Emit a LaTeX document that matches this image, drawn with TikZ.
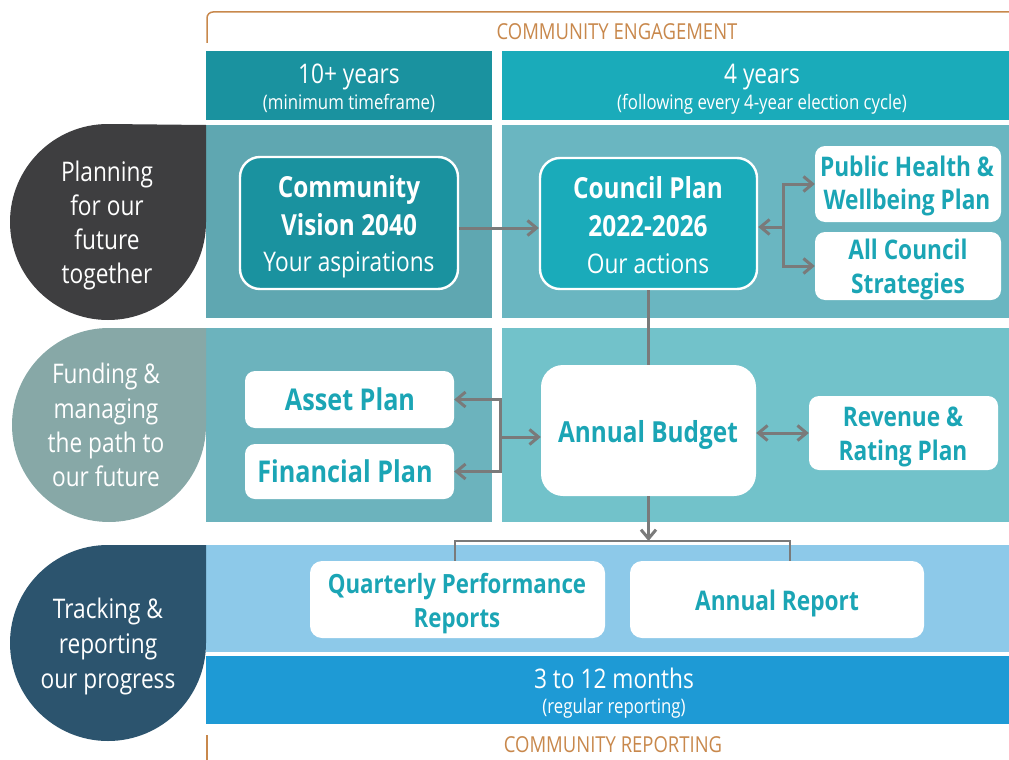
\documentclass[tikz,border=0pt]{standalone}
\usepackage{fontspec}
\setmainfont{Open Sans}[FakeStretch=0.84]
\usetikzlibrary{arrows.meta}
\definecolor{orng}{HTML}{C8884C}
\definecolor{hdrL}{HTML}{1A929F}
\definecolor{hdrR}{HTML}{1AABBA}
\definecolor{rAL}{HTML}{5FA7B1}
\definecolor{rAR}{HTML}{6AB6C1}
\definecolor{rBL}{HTML}{6CB3BD}
\definecolor{rBR}{HTML}{72C2CA}
\definecolor{rC}{HTML}{8DC9E9}
\definecolor{rD}{HTML}{1E9AD5}
\definecolor{leafA}{HTML}{3E3E40}
\definecolor{leafB}{HTML}{87A8A7}
\definecolor{leafC}{HTML}{2C546E}
\definecolor{tealtxt}{HTML}{1BA5B5}
\definecolor{arrgray}{HTML}{7A7A7A}
\newcommand\ftLeaf{\fontsize{27}{32}\selectfont}
\newcommand\ftSub{\fontsize{20}{24}\selectfont}
\newcommand\ftCap{\fontsize{22}{26}\selectfont}
\newcommand\ftBig{\fontsize{29}{34}\selectfont\bfseries}
\newcommand\ftAsset{\fontsize{30}{34}\selectfont\bfseries}
\newcommand\ftMid{\fontsize{27}{32}\selectfont\bfseries}
\newcommand\ftQ{\fontsize{26.5}{32}\selectfont\bfseries}
\begin{document}
\begin{tikzpicture}[x=1pt,y=-1pt,
  lbl/.style={inner sep=0pt, anchor=base},
  wlbl/.style={lbl, text=white},
  tlbl/.style={lbl, text=tealtxt},
  olbl/.style={lbl, text=orng, font=\ftCap},
  bigbox/.style={draw=white, line width=2.4pt, rounded corners=20pt, inner sep=0pt},
  wbox/.style={fill=white, rounded corners=10pt, inner sep=0pt},
  ln/.style={draw=arrgray, line width=3pt},
  arr/.style={ln, -{Straight Barb[length=9pt,width=15pt]}},
  darr/.style={ln, {Straight Barb[length=9pt,width=15pt]}-{Straight Barb[length=9pt,width=15pt]}}
]
\useasboundingbox (0,0) rectangle (1009,760);

% brackets
\draw[orng, line width=1.5pt, rounded corners=6pt] (207,43) -- (207,12) -- (1012,12);
\draw[orng, line width=1.5pt] (207,735) -- (207,762);
\node[olbl] (ceng) at (617,39.8) {COMMUNITY ENGAGEMENT};
\node[olbl] (crep) at (613,752.8) {COMMUNITY REPORTING};

% panels
\fill[hdrL] (206,51) rectangle (492,120);
\fill[hdrR] (502,51) rectangle (1009,120);
\fill[rAL] (206,125) rectangle (492,318);
\fill[rAR] (502,125) rectangle (1009,318);
\fill[rBL] (206,328) rectangle (492,522);
\fill[rBR] (502,328) rectangle (1009,522);
\fill[rC] (206,545) rectangle (1009,652);
\fill[rD] (206,656) rectangle (1009,724);

% header texts
\node[wlbl, font=\ftLeaf] (h1a) at (349,83.7) {10+ years};
\node[wlbl, font=\ftSub] (h1b) at (349,109) {(minimum timeframe)};
\node[wlbl, font=\ftLeaf] (h2a) at (762,83.7) {4 years};
\node[wlbl, font=\ftSub] (h2b) at (762,109) {(following every 4-year election cycle)};
\node[wlbl, font=\ftLeaf] (m1) at (614,688.7) {3 to 12 months};
\node[wlbl, font=\ftSub] (m2) at (614,713) {(regular reporting)};

% leaves
\fill[leafA] (206,125) -- (206,222) arc[start angle=0,end angle=270,radius=98] -- cycle;
\fill[leafB] (206,328) -- (206,425) arc[start angle=0,end angle=270,radius=97] -- cycle;
\fill[leafC] (206,545) -- (206,643) arc[start angle=0,end angle=270,radius=98] -- cycle;
\node[wlbl, font=\ftLeaf] (la1) at (107,181.7) {Planning};
\node[wlbl, font=\ftLeaf] (la2) at (107,215.7) {for our};
\node[wlbl, font=\ftLeaf] (la3) at (107,249.7) {future};
\node[wlbl, font=\ftLeaf] (la4) at (107,283.7) {together};
\node[wlbl, font=\ftLeaf] (lb1) at (106,383.7) {Funding \&};
\node[wlbl, font=\ftLeaf] (lb2) at (106,418.7) {managing};
\node[wlbl, font=\ftLeaf] (lb3) at (106,452.7) {the path to};
\node[wlbl, font=\ftLeaf] (lb4) at (106,486.7) {our future};
\node[wlbl, font=\ftLeaf] (lc1) at (108,618.7) {Tracking \&};
\node[wlbl, font=\ftLeaf] (lc2) at (108,653.7) {reporting};
\node[wlbl, font=\ftLeaf] (lc3) at (108,688.7) {our progress};

% boxes
\node[bigbox, fill=hdrL, minimum width=218pt, minimum height=132pt] (vision) at (349,223) {};
\node[bigbox, fill=hdrR, minimum width=217pt, minimum height=131pt] (council) at (648.5,223.5) {};
\node[wbox, minimum width=186pt, minimum height=76pt] (ph) at (908,184) {};
\node[wbox, minimum width=186pt, minimum height=68pt] (acs) at (908,266) {};
\node[wbox, minimum width=209pt, minimum height=57pt] (asset) at (349.5,399.5) {};
\node[wbox, minimum width=209pt, minimum height=55pt] (fin) at (349.5,471.5) {};
\node[wbox, rounded corners=22pt, minimum width=215pt, minimum height=131pt] (budget) at (648.5,430.5) {};
\node[wbox, minimum width=189pt, minimum height=74pt] (rev) at (903.5,433) {};
\node[wbox, rounded corners=12pt, minimum width=295pt, minimum height=77pt] (qpr) at (457.5,599.5) {};
\node[wbox, rounded corners=12pt, minimum width=294pt, minimum height=77pt] (ar) at (777,599.5) {};

% box texts
\node[wlbl, font=\ftBig] (v1) at (349,197.4) {Community};
\node[wlbl, font=\ftBig] (v2) at (349,235.4) {Vision 2040};
\node[wlbl, font=\ftLeaf] (v3) at (349,271.7) {Your aspirations};
\node[wlbl, font=\ftBig] (c1) at (648,198.4) {Council Plan};
\node[wlbl, font=\ftBig] (c2) at (648,236.4) {2022-2026};
\node[wlbl, font=\ftLeaf] (c3) at (648,273.7) {Our actions};
\node[tlbl, font=\ftMid] (p1) at (907,176.7) {Public Health \&};
\node[tlbl, font=\ftMid] (p2) at (907,209.7) {Wellbeing Plan};
\node[tlbl, font=\ftMid] (s1) at (908,259.7) {All Council};
\node[tlbl, font=\ftMid] (s2) at (908,293.7) {Strategies};
\node[tlbl, font=\ftAsset] (at) at (350,410.5) {Asset Plan};
\node[tlbl, font=\ftAsset] (ft) at (345,482.5) {Financial Plan};
\node[tlbl, font=\ftBig] (bt) at (648,442.4) {Annual Budget};
\node[tlbl, font=\ftMid] (r1) at (903,426.7) {Revenue \&};
\node[tlbl, font=\ftMid] (r2) at (903,460.7) {Rating Plan};
\node[tlbl, font=\ftQ] (q1) at (457,593.7) {Quarterly Performance};
\node[tlbl, font=\ftQ] (q2) at (457,627.7) {Reports};
\node[tlbl, font=\ftMid] (art) at (777,610.7) {Annual Report};

% connectors
\coordinate (b1) at (783,227);
\coordinate (b2) at (500,437);
\coordinate (busL) at (455,541);
\coordinate (busR) at (790,541);
\draw[arr] ([yshift=-5pt]vision.east) -- ([yshift=-5pt]vision.east -| council.west);
\draw[arr] (b1) -- (b1 -| council.east);
\draw[arr] (b1) |- (ph.west);
\draw[arr] (b1) |- (acs.west);
\draw[ln] (council.south) -- (budget.north);
\draw[arr] (b2) |- (asset.east);
\draw[arr] (b2) |- (fin.east);
\draw[arr] (b2) -- (b2 -| budget.west);
\draw[darr] (rev.west -| budget.east) -- (rev.west);
\draw[arr] (budget.south) -- (budget.south |- busL);
\draw[ln, line width=2.4pt] (busL |- qpr.north) -- (busL) -- (busR) -- (busR |- ar.north);
\end{tikzpicture}
\end{document}
